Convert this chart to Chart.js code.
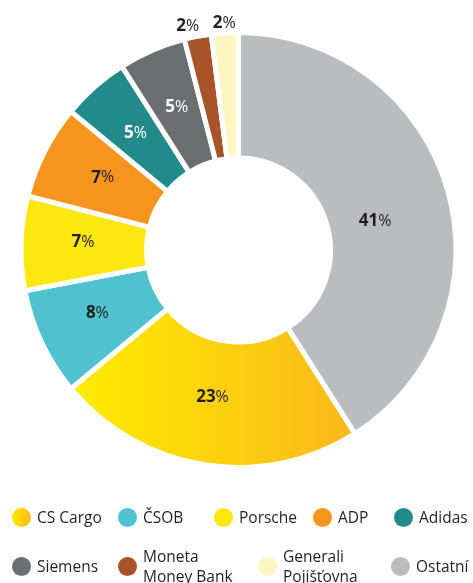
<!DOCTYPE html>
<html>
<head>
<meta charset="utf-8">
<script src="https://cdn.jsdelivr.net/npm/chart.js@4/dist/chart.umd.min.js"></script>
<style>
  html, body { margin: 0; padding: 0; background: #fff; }
  #wrap { position: relative; width: 473px; height: 583px; overflow: hidden; }
  #c { position: absolute; left: 0; top: 0; }
  .lg { position: absolute; display: flex; align-items: center; font-family: "Open Sans", sans-serif; font-size: 15.5px; color: #231f20; line-height: 20px; }
  .lg .dot { width: 19px; height: 19px; border-radius: 50%; margin-right: 6px; flex: none; }
</style>
</head>
<body>
<div id="wrap">
  <canvas id="c" width="473" height="583"></canvas>
</div>
<script>
// ---- data ----
const categories = ["CS Cargo", "ČSOB", "Porsche", "ADP", "Adidas", "Siemens", "Moneta\nMoney Bank", "Generali\nPojišťovna", "Ostatní"];
const values = [23, 8, 7, 7, 5, 5, 2, 2, 41];
const valueLabels = ["23", "8", "7", "7", "5", "5", "2", "2", "41"];

// ---- styles ----
const colors = ["gradient", "#4FC1CF", "#FCE711", "#F7941E", "#218B8C", "#6D6E70", "#A9532A", "#FEF6C1", "#BBBCC0"];
const gradStops = ["#FFEC00", "#FBB81B"];
const labelColors = ["#231f20", "#231f20", "#231f20", "#231f20", "#ffffff", "#ffffff", "#231f20", "#231f20", "#231f20"];
// label nudges (angle in degrees, radius in px) relative to slice middle
const labelNudge = [[1, -6], [1, -1], [1, 0], [1, -2], [0, 0], [0, 0], [-2, 2], [0, 0], [4.2, -16]];
// legend layout: [row top y, left x] per item
const legendPos = [[507,12],[507,118],[507,214],[507,313],[507,394],[556,12],[556,118],[556,258],[556,391]];

const total = values.reduce((a, b) => a + b, 0);
const rotationDeg = 360 * values[values.length - 1] / total;

const VIS_R = 215, BW = 5;

function sliceGradient(ctx) {
  const chart = ctx.chart;
  const area = chart.chartArea;
  if (!area) return gradStops[0];
  const cx = (area.left + area.right) / 2;
  const a0 = rotationDeg * Math.PI / 180;
  const a1 = (rotationDeg + 360 * values[0] / total) * Math.PI / 180;
  let minX = Infinity, maxX = -Infinity;
  for (let i = 0; i <= 60; i++) {
    const a = a0 + (a1 - a0) * i / 60;
    const x = cx + VIS_R * Math.sin(a);
    minX = Math.min(minX, x); maxX = Math.max(maxX, x);
  }
  const g = chart.ctx.createLinearGradient(minX, 0, maxX, 0);
  g.addColorStop(0, gradStops[0]);
  g.addColorStop(1, gradStops[1]);
  return g;
}

const labelPlugin = {
  id: 'sliceLabels',
  afterDatasetsDraw(chart) {
    const meta = chart.getDatasetMeta(0);
    const c = chart.ctx;
    c.save();
    c.textBaseline = 'middle';
    meta.data.forEach((arc, i) => {
      const mid = (arc.startAngle + arc.endAngle) / 2 + labelNudge[i][0] * Math.PI / 180;
      const inner = arc.innerRadius, outer = arc.outerRadius;
      const r = (values[i] < 3 ? outer + 10 : (inner + outer) / 2 + 1) + labelNudge[i][1];
      const x = arc.x + Math.cos(mid) * r;
      const y = arc.y + Math.sin(mid) * r;
      const num = valueLabels[i];
      c.font = 'bold 17px "Open Sans"';
      const w1 = c.measureText(num).width;
      c.font = '16px "Open Sans"';
      const w2 = c.measureText('%').width;
      const sx = x - (w1 + w2) / 2;
      c.fillStyle = labelColors[i];
      c.textAlign = 'left';
      c.font = 'bold 17px "Open Sans"';
      c.fillText(num, sx, y);
      c.font = '16px "Open Sans"';
      c.fillText('%', sx + w1, y);
    });
    c.restore();
  }
};

new Chart(document.getElementById('c'), {
  type: 'doughnut',
  data: {
    labels: categories,
    datasets: [{
      data: values,
      backgroundColor: (ctx) => ctx.dataIndex === 0 ? sliceGradient(ctx) : colors[ctx.dataIndex],
      borderColor: '#ffffff',
      borderWidth: BW,
      borderJoinStyle: 'miter',
      hoverOffset: 0
    }]
  },
  options: {
    responsive: false,
    animation: false,
    rotation: rotationDeg,
    radius: VIS_R + BW / 2,
    cutout: (92 / (VIS_R + BW / 2) * 100) + '%',
    layout: { padding: { left: 21, right: 17, top: 32.5, bottom: 115.5 } },
    plugins: { legend: { display: false }, tooltip: { enabled: false } }
  },
  plugins: [labelPlugin]
});

// ---- HTML legend built from categories ----
const wrap = document.getElementById('wrap');
categories.forEach((name, i) => {
  const d = document.createElement('div');
  d.className = 'lg';
  const lines = name.split('\n');
  d.style.top = (legendPos[i][0] - (lines.length > 1 ? 10 : 0)) + 'px';
  d.style.left = legendPos[i][1] + 'px';
  const dot = document.createElement('span');
  dot.className = 'dot';
  dot.style.background = colors[i] === 'gradient'
    ? `linear-gradient(to right, ${gradStops[0]}, ${gradStops[1]})` : colors[i];
  const t = document.createElement('span');
  lines.forEach((ln, k) => {
    if (k) t.appendChild(document.createElement('br'));
    t.appendChild(document.createTextNode(ln));
  });
  d.appendChild(dot); d.appendChild(t);
  wrap.appendChild(d);
});
</script>
</body>
</html>
